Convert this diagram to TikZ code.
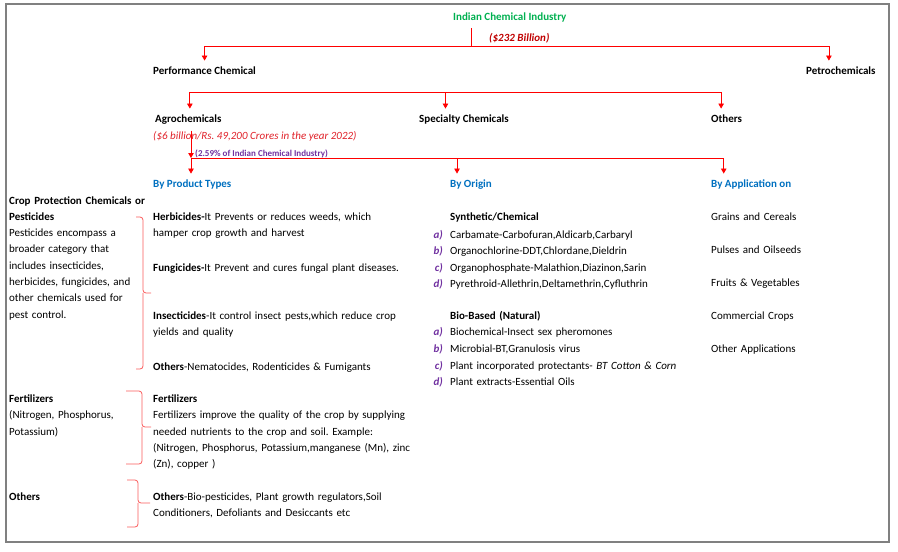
\documentclass[tikz,border=0pt]{standalone}
\usepackage{fontspec}
\setmainfont{Carlito}
\usepackage{tikz}
\usetikzlibrary{arrows.meta,positioning}

\definecolor{titlegreen}{RGB}{0,176,80}
\definecolor{darkred}{RGB}{192,0,0}
\definecolor{valred}{RGB}{224,32,40}
\definecolor{headblue}{RGB}{0,112,192}
\definecolor{listpurple}{RGB}{112,48,160}
\definecolor{framegray}{RGB}{128,128,128}
\definecolor{bracered}{RGB}{250,90,90}
\frenchspacing

\begin{document}
\begin{tikzpicture}[x=1pt, y=-1pt,
    every node/.style={inner sep=0pt, anchor=base west},
    head/.style={font=\bfseries\fontsize{11}{13}\selectfont, inner ysep=6pt},
    body/.style={font=\fontsize{11}{16.3}\selectfont, text width=#1, align=left},
    body/.default=300pt,
    lbl/.style={font=\bfseries\itshape\fontsize{11}{#1}\selectfont, text=listpurple,
      text width=20pt, align=right, anchor=base east},
    wire/.style={draw=red, line width=0.8pt},
    link/.style={wire, -{Triangle[length=5pt,width=5.5pt]}},
    bracket/.style={draw=bracered, line width=0.8pt, rounded corners=3pt}]
\useasboundingbox (0,0) rectangle (898,552);
\draw[framegray, line width=2.5pt] (6,4) rectangle (889,542);

% top levels
\node[head, text=titlegreen] (title) at (453,20.5) {Indian Chemical Industry};
\node[font=\bfseries\itshape\fontsize{11}{13}\selectfont, text=darkred] (worth) at (489,41.5) {(\$232 Billion)};
\node[head] (perf) at (153,74.5) {Performance Chemical};
\node[head] (petro) at (806,74.5) {Petrochemicals};
\node[head] (agro) at (155,122.5) {Agrochemicals};
\node[head] (spec) at (419,122.5) {Specialty Chemicals};
\node[head] (othr) at (711,122.5) {Others};
\node[font=\itshape\fontsize{11}{13}\selectfont, text=valred] (agroval) at (153,139.5)
  {(\$6 billion/Rs. 49,200 Crores in the year 2022)};
\node[font=\bfseries\fontsize{9}{11}\selectfont, text=listpurple] (share) at (195,156)
  {(2.59\% of Indian Chemical Industry)};
\node[head, text=headblue] (byprod) at (153,187.5) {By Product Types};
\node[head, text=headblue] (byorig) at (450,187.5) {By Origin};
\node[head, text=headblue] (byapp) at (711,187.5) {By Application on};

% connectors
\coordinate (bus1) at (471,46);
\draw[wire] (title.south -| bus1) -- (bus1);
\draw[link] (bus1) -| (perf.north);
\draw[link] (bus1) -| ([xshift=-12pt]petro.north);
\path (perf.south) ++(0,12) coordinate (bus2);
\draw[link] (bus2) -| ([xshift=1.5pt]agro.north);
\draw[link] (bus2) -| ([xshift=-18.5pt]spec.north);
\draw[link] (bus2) -| ([xshift=-5.5pt]othr.north);
\coordinate (bus3) at (191,158);
\draw[link] (bus3 |- agro.south) -- (bus3);
\draw[link] (bus3) -- (bus3 |- byprod.north);
\draw[link] (bus3) -| ([xshift=-14pt]byorig.north);
\draw[link] (bus3) -| ([xshift=-27.5pt]byapp.north);

% left column
\node[body=150pt] (crop) at (9,204)
  {\textbf{Crop Protection Chemicals or}\\\textbf{Pesticides}\\Pesticides encompass a\\broader category that\\includes insecticides,\\herbicides, fungicides, and\\other chemicals used for\\pest control.};
\node[body=150pt] (fertl) at (9,402.5) {\textbf{Fertilizers}\\(Nitrogen, Phosphorus,\\Potassium)};
\node[body=150pt] (othl) at (9,500.5) {\textbf{Others}};

% brackets
\draw[bracket] (136,217) -| (143,293) -- (151,293) (143,293) |- (136,369);
\draw[bracket] (126,391) -| (142,427) -- (151,427) (142,427) |- (126,464);
\draw[bracket] (127,480) -| (138,503) -- (150,503) (138,503) |- (127,527);

% product types
\node[body] (herb) at (153,220.5) {\textbf{Herbicides-}It Prevents or reduces weeds, which\\hamper crop growth and harvest};
\node[body] (fung) at (153,271) {\textbf{Fungicides-}It Prevent and cures fungal plant diseases.};
\node[body] (insect) at (153,319.5) {\textbf{Insecticides}-It control insect pests,which reduce crop\\yields and quality};
\node[body] (othpest) at (153,370.5) {\textbf{Others}-Nematocides, Rodenticides \& Fumigants};
\node[body] (fert) at (153,402.5) {\textbf{Fertilizers}\\Fertilizers improve the quality of the crop by supplying\\needed nutrients to the crop and soil. Example:\\(Nitrogen, Phosphorus, Potassium,manganese (Mn), zinc\\(Zn), copper )};
\node[body] (othmid) at (153,500.5) {\textbf{Others}-Bio-pesticides, Plant growth regulators,Soil\\Conditioners, Defoliants and Desiccants etc};

% origin
\node[body=240pt] (synth) at (450,220.5) {\textbf{Synthetic/Chemical}};
\node[lbl=16.3pt] (synlbl) at (443,238.5) {a)\\b)\\c)\\d)};
\node[body=240pt] (synlist) at (450,238.5)
  {Carbamate-Carbofuran,Aldicarb,Carbaryl\\Organochlorine-DDT,Chlordane,Dieldrin\\Organophosphate-Malathion,Diazinon,Sarin\\Pyrethroid-Allethrin,Deltamethrin,Cyfluthrin};
\node[body=240pt] (bio) at (450,319.5) {\textbf{Bio-Based (Natural)}};
\node[lbl=16.8pt] (biolbl) at (443,335.5) {a)\\b)\\c)\\d)};
\node[body=240pt, font=\fontsize{11}{16.8}\selectfont] (biolist) at (450,335.5)
  {Biochemical-Insect sex pheromones\\Microbial-BT,Granulosis virus\\Plant incorporated protectants- \textit{BT Cotton \& Corn}\\Plant extracts-Essential Oils};

% application
\node[body=150pt, font=\fontsize{11}{32.9}\selectfont] (applist) at (711,220.5)
  {Grains and Cereals\\Pulses and Oilseeds\\Fruits \& Vegetables\\Commercial Crops\\Other Applications};
\end{tikzpicture}
\end{document}
